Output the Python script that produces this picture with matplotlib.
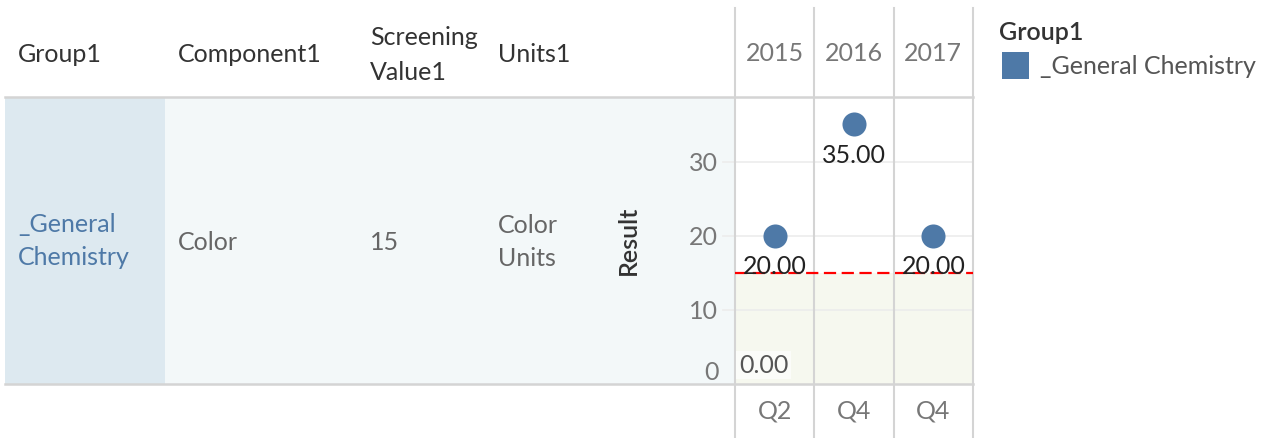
import matplotlib
matplotlib.use("Agg")
import matplotlib.pyplot as plt
import matplotlib.patches as mpatches
from matplotlib.transforms import blended_transform_factory

plt.rcParams['font.family'] = ['Lato', 'DejaVu Sans']

# data
years = ['2015', '2016', '2017']
quarters = ['Q2', 'Q4', 'Q4']
results = [20, 35, 20]
screening_value = 15
group = '_General Chemistry'
component = 'Color'
units = 'Color Units'
header_cols = ['Group1', 'Component1', 'Screening\nValue1', 'Units1']
yticks = [0, 10, 20, 30]

W, H = 1271, 438
BLUE = '#4e79a7'
GRID = '#d4d4d4'
FS = 18

fig = plt.figure(figsize=(W / 100, H / 100), dpi=100)

# background / table layer in pixel coordinates
bg = fig.add_axes([0, 0, 1, 1])
bg.set_xlim(0, W)
bg.set_ylim(H, 0)
bg.axis('off')
bg.set_zorder(1)

bg.add_patch(mpatches.Rectangle((5, 97), 160, 287, color='#dde9f0', lw=0))
bg.add_patch(mpatches.Rectangle((165, 97), 570, 287, color='#f3f8f9', lw=0))

hdr = dict(fontsize=FS, color='#333333', va='center', ha='left')
bg.text(18, 54, header_cols[0], **hdr)
bg.text(178, 54, header_cols[1], **hdr)
bg.text(370, 55, header_cols[2], linespacing=1.6, **hdr)
bg.text(498, 54, header_cols[3], **hdr)

bg.text(18, 241, group.replace(' ', '\n'), fontsize=FS, color=BLUE,
        va='center', ha='left', linespacing=1.55)
body = dict(fontsize=FS, color='#666666', va='center', ha='left')
bg.text(178, 242, component, **body)
bg.text(370, 242, str(screening_value), **body)
bg.text(498, 242, units.replace(' ', '\n'), linespacing=1.55, **body)

# legend
bg.text(999, 32, 'Group1', fontsize=FS, fontweight=600, color='#333333',
        va='center', ha='left')
bg.add_patch(mpatches.Rectangle((1002, 52), 27, 27, color=BLUE, lw=0))
bg.text(1040, 67, group, fontsize=FS, color='#555555', va='center', ha='left')

# chart
ax = fig.add_axes([735 / W, (H - 384) / H, (973 - 735) / W, (384 - 97) / H])
ax.set_zorder(2)
ax.patch.set_alpha(0)
xs = list(range(len(results)))
ax.set_xlim(-0.5, len(results) - 0.5)
ax.set_ylim(0, 38.7)

ax.axhspan(0, screening_value, color='#f6f8ef', lw=0, zorder=0)
for t in yticks[1:]:
    ax.axhline(t, xmin=-0.05, color='#ececec', lw=1.2, zorder=1, clip_on=False)
for b in [x - 0.5 for x in xs] + [xs[-1] + 0.5]:
    ax.axvline(b, ymin=-0.19, ymax=1.31, color=GRID, lw=1.5,
               clip_on=False, zorder=2)
ax.axhline(screening_value, color='red', lw=1.6, ls=(0, (5.5, 2.5)), zorder=3)

ax.scatter(xs, results, s=300, color=BLUE, lw=0, zorder=4)
for x, v in zip(xs, results):
    ax.annotate(f'{v:.2f}', (x, v), xytext=(0, -14), textcoords='offset points',
                ha='center', va='top', fontsize=FS, color='#222222', zorder=5)
ax.text(-0.45, 1.0, f'{0:.2f}', fontsize=FS, color='#555555', ha='left',
        va='bottom', zorder=5,
        bbox=dict(facecolor='#fbfcf9', edgecolor='none', pad=2))

ax.set_xticks([])
ax.set_yticks(yticks)
ax.set_yticklabels([str(t) for t in yticks])
ax.tick_params(axis='y', length=0, pad=12, labelsize=FS, labelcolor='#777777')
for lab in ax.get_yticklabels():
    if lab.get_text() == '0':
        lab.set_va('bottom')
for s in ax.spines.values():
    s.set_visible(False)

ax.set_ylabel('Result', fontsize=FS, fontweight=600, color='#333333')
ax.yaxis.set_label_coords(-0.40, 0.5)

tr = blended_transform_factory(ax.transData, ax.transAxes)
for x, yr, q in zip(xs, years, quarters):
    ax.text(x, 1.15, yr, transform=tr, ha='center', va='center',
            fontsize=FS, color='#777777')
    ax.text(x, -0.094, q, transform=tr, ha='center', va='center',
            fontsize=FS, color='#777777')

# table rules on top
fg = fig.add_axes([0, 0, 1, 1])
fg.set_xlim(0, W)
fg.set_ylim(H, 0)
fg.axis('off')
fg.set_zorder(3)
fg.plot([5, 973], [97, 97], color=GRID, lw=1.8)
fg.plot([5, 973], [384, 384], color=GRID, lw=1.8)

fig.savefig('out.png', dpi=100)
